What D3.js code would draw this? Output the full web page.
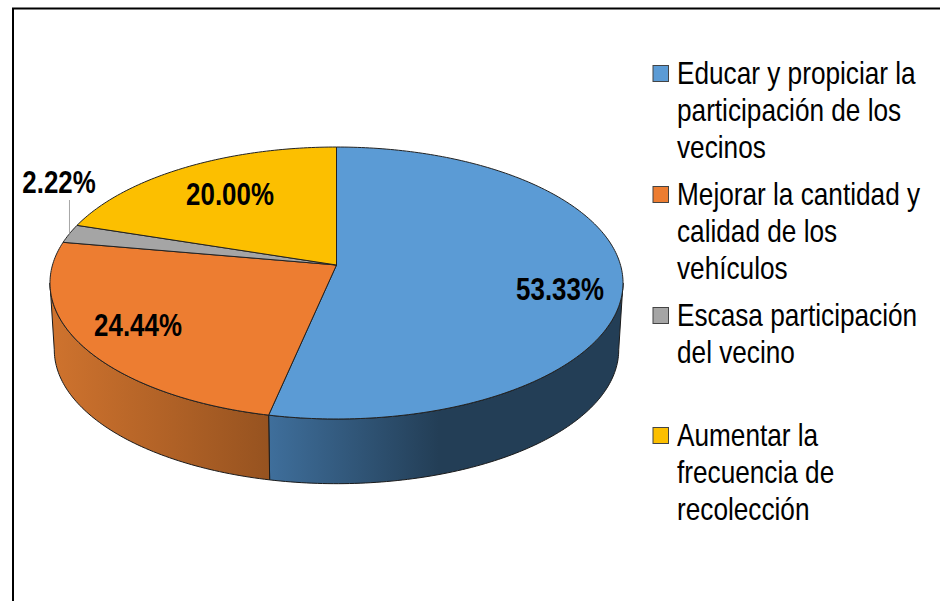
<!DOCTYPE html>
<html>
<head>
<meta charset="utf-8">
<script src="https://cdn.jsdelivr.net/npm/d3@7"></script>
<style>
  html, body { margin: 0; padding: 0; background: #fff; }
  svg { display: block; }
  text { font-family: "Liberation Sans", Arial, sans-serif; fill: #000; }
</style>
</head>
<body>
<svg></svg>
<script>
const categories = ["Educar y propiciar la participación de los vecinos",
                    "Mejorar la cantidad y calidad de los vehículos",
                    "Escasa participación del vecino",
                    "Aumentar la frecuencia de recolección"];
const values = [53.33, 24.44, 2.22, 20.00];
const valueLabels = ["53.33%", "24.44%", "2.22%", "20.00%"];
const colors = ["#5b9bd5", "#ed7d31", "#a5a5a5", "#fcbf00"];
const legendLines = [["Educar y propiciar la", "participación de los", "vecinos"],
                     ["Mejorar la cantidad y", "calidad de los", "vehículos"],
                     ["Escasa participación", "del vecino"],
                     ["Aumentar la", "frecuencia de", "recolección"]];

const width = 940, height = 601;
const svg = d3.select("svg").attr("width", width).attr("height", height);

// border, open at the bottom of the photo
svg.append("path")
  .attr("d", "M13,601V8.5H940")
  .attr("fill", "none")
  .attr("stroke", "#000")
  .attr("stroke-width", 2);

// perspective pie: unit circle pushed through a homography so the far side shrinks
const apex = {x: 336.5, y: 265};
const k = 0.1324, A = 284, B = 133.6;
const depth = 67, bottomScale = 0.985;

function project(a, base) {
  const u = Math.sin(a), v = -Math.cos(a), w = 1 - k * v;
  const s = base ? bottomScale : 1;
  return [apex.x + s * A * u / w, apex.y + s * B * v / w + (base ? depth : 0)];
}
function arcPoints(a0, a1, base) {
  const n = Math.max(2, Math.ceil(Math.abs(a1 - a0) * 60));
  return d3.range(n + 1).map(i => project(a0 + (a1 - a0) * i / n, base));
}

const pie = d3.pie().sort(null);
const slices = pie(values);
const line = d3.line();

const defs = svg.append("defs");
function sideGradient(id, stops) {
  const g = defs.append("linearGradient").attr("id", id)
    .attr("gradientUnits", "userSpaceOnUse")
    .attr("x1", 50).attr("x2", 622).attr("y1", 0).attr("y2", 0);
  stops.forEach(s => g.append("stop").attr("offset", s[0]).attr("stop-color", s[1]));
}
sideGradient("sideBlue", [[0.38, "#3f6f9c"], [0.68, "#233e56"], [1, "#233e56"]]);
sideGradient("sideOrange", [[0, "#cf732e"], [0.38, "#975320"]]);

// only the near half of the rim shows
const rimEnd = Math.PI - Math.acos(k);
const rimStart = 2 * Math.PI - rimEnd;
const g = svg.append("g");

const sides = [
  {a0: rimEnd, a1: slices[0].endAngle, fill: "url(#sideBlue)"},
  {a0: slices[1].startAngle, a1: rimStart, fill: "url(#sideOrange)"}
];
g.selectAll("path.side").data(sides).enter().append("path")
  .attr("class", "side")
  .attr("d", d => line(arcPoints(d.a0, d.a1, false).concat(arcPoints(d.a1, d.a0, true))) + "Z")
  .attr("fill", d => d.fill)
  .attr("stroke", "#1a1a1a")
  .attr("stroke-width", 1)
  .attr("stroke-linejoin", "round");

g.selectAll("path.top").data(slices).enter().append("path")
  .attr("class", "top")
  .attr("d", d => line([[apex.x, apex.y]].concat(arcPoints(d.startAngle, d.endAngle, false))) + "Z")
  .attr("fill", (d, i) => colors[i])
  .attr("stroke", "#222")
  .attr("stroke-width", 1)
  .attr("stroke-linejoin", "round");

// leader for the small slice
const midGray = (slices[2].startAngle + slices[2].endAngle) / 2;
const leaderEnd = project(midGray, false);
svg.append("line")
  .attr("x1", leaderEnd[0]).attr("y1", leaderEnd[1])
  .attr("x2", leaderEnd[0]).attr("y2", 200)
  .attr("stroke", "#a6a6a6")
  .attr("stroke-width", 1);

// the original type is squeezed sideways, so text gets an x scale
const labelPos = [[560, 289], [138, 325], [59, 182], [230, 194]];
const labelScale = 0.835, legendScale = 0.845;
svg.selectAll("text.value").data(valueLabels).enter().append("text")
  .attr("class", "value")
  .attr("transform", (d, i) => `translate(${labelPos[i][0]},${labelPos[i][1]}) scale(${labelScale},1)`)
  .attr("dy", "0.36em")
  .attr("text-anchor", "middle")
  .attr("font-size", 31)
  .attr("font-weight", "bold")
  .text(d => d);

// legend
const legendTop = [73, 194, 315, 435];
const legend = svg.selectAll("g.legend").data(legendLines).enter().append("g")
  .attr("class", "legend")
  .attr("transform", (d, i) => `translate(653,${legendTop[i]})`);
legend.append("rect")
  .attr("y", -7.5).attr("width", 15.5).attr("height", 16)
  .attr("fill", (d, i) => colors[i])
  .attr("stroke", "#444")
  .attr("stroke-width", 1);
legend.selectAll("text").data(d => d).enter().append("text")
  .attr("transform", (d, i) => `translate(24,${i * 36.8}) scale(${legendScale},1)`)
  .attr("dy", "0.36em")
  .attr("font-size", 31)
  .text(d => d);
</script>
</body>
</html>
